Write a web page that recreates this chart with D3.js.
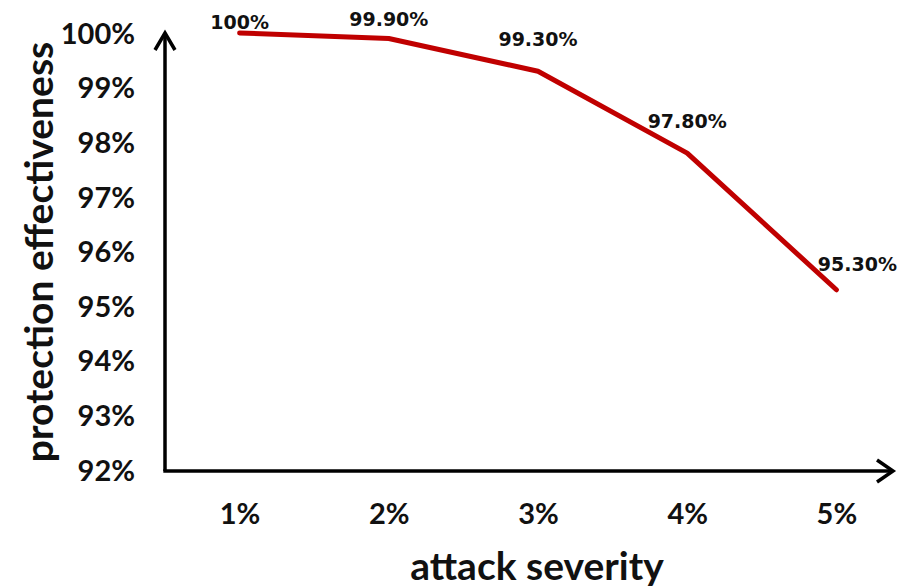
<!DOCTYPE html>
<html>
<head>
<meta charset="utf-8">
<script src="https://cdn.jsdelivr.net/npm/d3@7"></script>
<style>
  html, body { margin: 0; padding: 0; background: #fff; }
  svg { display: block; }
  text { font-family: Lato, "Open Sans", sans-serif; font-weight: bold; fill: #111; }
</style>
</head>
<body>
<svg id="chart" width="905" height="588"></svg>
<script>
const categories = ["1%", "2%", "3%", "4%", "5%"];
const values = [100, 99.9, 99.3, 97.8, 95.3];
const valueLabels = ["100%", "99.90%", "99.30%", "97.80%", "95.30%"];
const yTicks = [92, 93, 94, 95, 96, 97, 98, 99, 100];
const xTitle = "attack severity";
const yTitle = "protection effectiveness";

// layout
const labelOffsets = [[0, -11], [0, -19], [0, -32], [0, -32], [21, -25]];
const svg = d3.select("#chart");
const originX = 165, originY = 471;

const x = d3.scalePoint().domain(categories).range([165, 911]).padding(0.5);
const y = d3.scaleLinear().domain([92, 100]).range([470, 33]);

// axes lines
const axisG = svg.append("g").attr("stroke", "#000").attr("stroke-width", 3.5)
  .attr("fill", "none").attr("stroke-linecap", "butt");
axisG.append("path").attr("d", `M${originX},${originY} V${y(100)}`);
axisG.append("path").attr("d", `M${originX - 1.7},${originY} H893`);
// arrow heads
axisG.append("path").attr("d", `M${originX - 10},${y(100) + 17} L${originX},${y(100)} L${originX + 10},${y(100) + 17}`)
  .attr("stroke-linejoin", "miter");
axisG.append("path").attr("d", `M877,${originY - 11} L893,${originY} L877,${originY + 11}`)
  .attr("stroke-linejoin", "miter");

// y tick labels
const yAxis = d3.axisLeft(y).tickValues(yTicks).tickSize(0).tickPadding(0).tickFormat(d => d + "%");
const yg = svg.append("g").attr("transform", "translate(135,0)").call(yAxis);
yg.select(".domain").remove();
yg.selectAll("text").style("font-size", "29px").style("font-family", "Lato, sans-serif")
  .style("font-weight", "bold").attr("fill", "#111").attr("dy", "0.35em");

// x tick labels
const xAxis = d3.axisBottom(x).tickSize(0).tickPadding(0);
const xg = svg.append("g").attr("transform", "translate(0,514)").call(xAxis);
xg.select(".domain").remove();
xg.selectAll("text").style("font-size", "29px").style("font-family", "Lato, sans-serif")
  .style("font-weight", "bold").attr("fill", "#111").attr("dy", "0.35em");

// line
const line = d3.line().x((d, i) => x(categories[i])).y(d => y(d));
svg.append("path").datum(values).attr("d", line)
  .attr("fill", "none").attr("stroke", "#c00000").attr("stroke-width", 5)
  .attr("stroke-linejoin", "round").attr("stroke-linecap", "round");

// data labels
svg.append("g").selectAll("text").data(values).join("text")
  .attr("x", (d, i) => x(categories[i]) + labelOffsets[i][0])
  .attr("y", (d, i) => y(d) + labelOffsets[i][1])
  .attr("dy", "0.35em")
  .attr("text-anchor", "middle")
  .style("font-family", "'DejaVu Sans', Verdana, sans-serif")
  .style("font-size", "19px")
  .text((d, i) => valueLabels[i]);

// titles
svg.append("text").attr("x", 537).attr("y", 566).attr("dy", "0.35em")
  .attr("text-anchor", "middle").style("font-size", "39px").text(xTitle);
svg.append("text").attr("transform", "translate(39,252) rotate(-90)").attr("dy", "0.35em")
  .attr("text-anchor", "middle").style("font-size", "39px").text(yTitle);
</script>
</body>
</html>
